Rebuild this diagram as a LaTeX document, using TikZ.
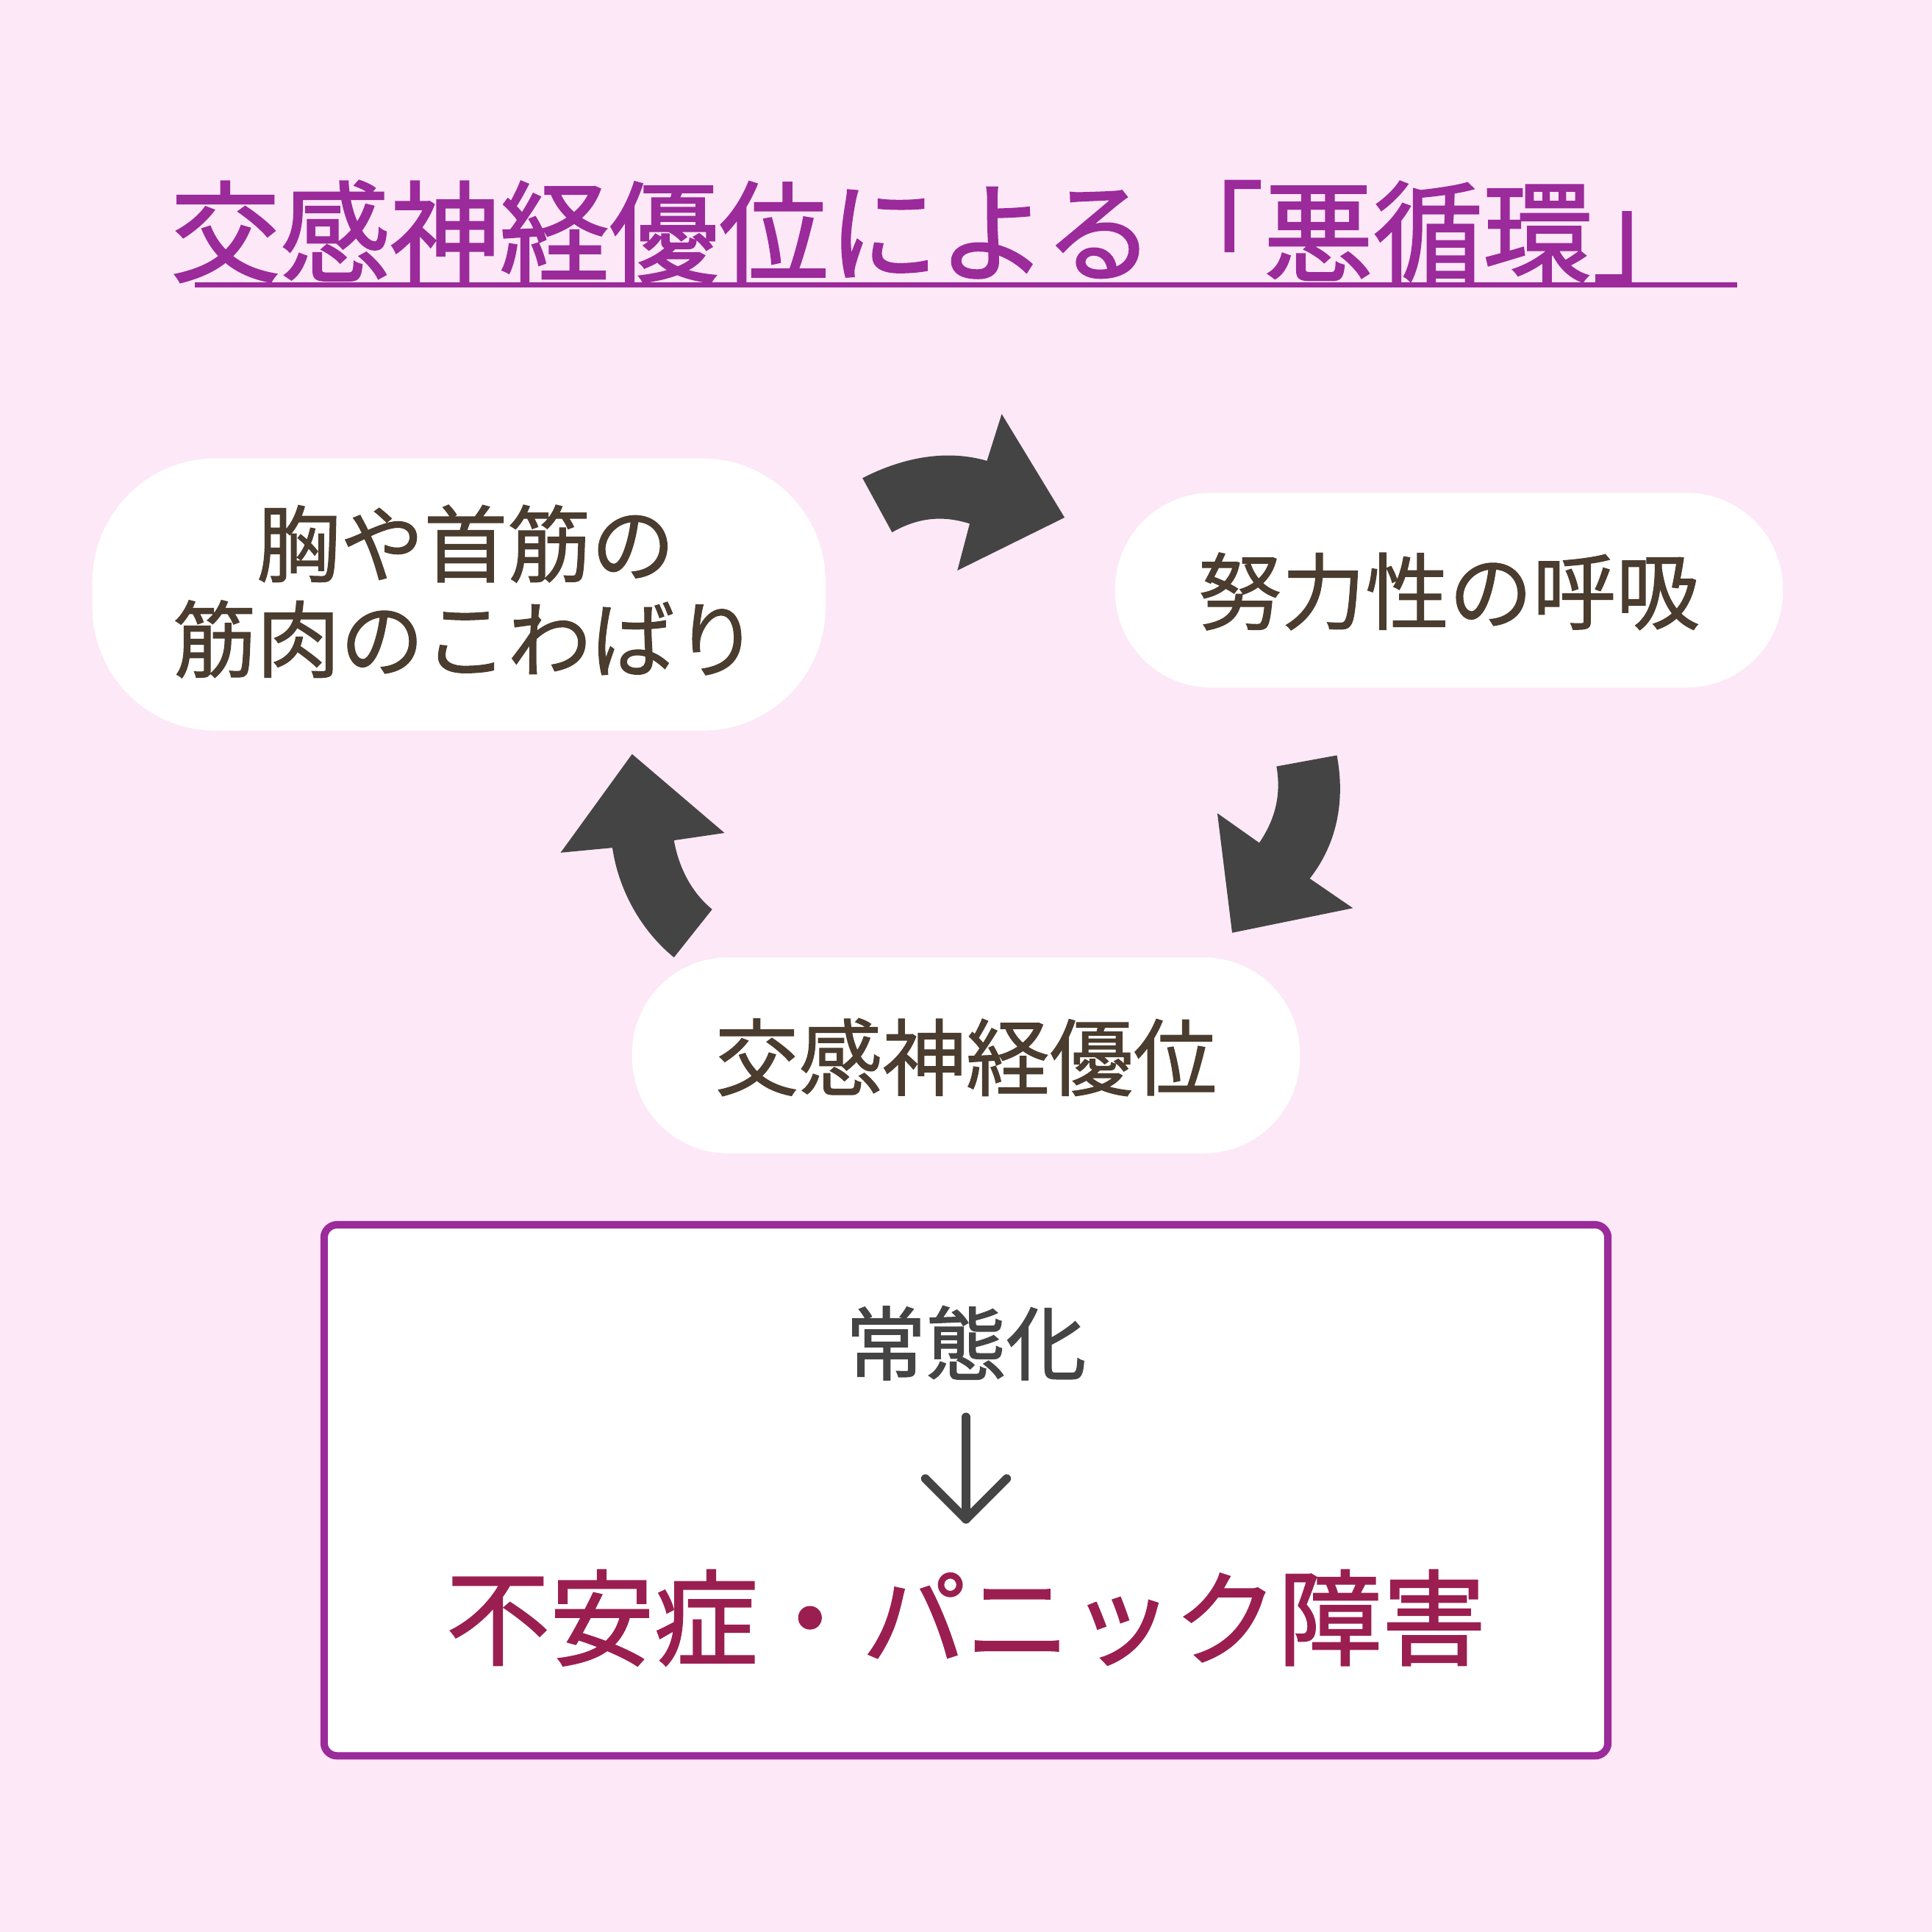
\documentclass[tikz,border=0pt]{standalone}
\usepackage{fontspec}
\setmainfont{Noto Sans CJK JP}
\newfontfamily\jpb{Noto Sans CJK JP}[FakeBold=1.5]
\newfontfamily\jpm{Noto Sans CJK JP}[FakeBold=1]
\definecolor{bgpink}{HTML}{FCE8F6}
\definecolor{ttl}{HTML}{9B2A9B}
\definecolor{txt}{HTML}{4A3C2E}
\definecolor{arr}{HTML}{444444}
\definecolor{red}{HTML}{9A1F50}
\tikzset{bubble/.style={fill=white,draw=none},
 lbl/.style={text=txt,font=\fontsize{19.3pt}{24pt}\selectfont\jpm,align=center,inner sep=0pt},
 arrowshape/.style={fill=arr,draw=none}}
\begin{document}
\begin{tikzpicture}[x={(0.01cm,0)},y={(0,-0.01cm)}]
\fill[bgpink] (0,0) rectangle (1568,1568);
\useasboundingbox (0,0) rectangle (1568,1568);
% title
\node[text=ttl,font=\fontsize{25.3pt}{28pt}\selectfont\jpb,inner sep=0pt] (title) at (760,188) {交感神経優位による「悪循環」};
\draw[ttl,line width=4*0.2845pt] (158,231) -- (1410,231);
% bubbles
\fill[bubble,rounded corners=100*0.2845pt] (75,372) rectangle (670,593);
\node[lbl] (b1) at (378,480) {胸や首筋の\\[-2pt]筋肉のこわばり};
\fill[bubble,rounded corners=78*0.2845pt] (905,400) rectangle (1447,558);
\node[lbl] (b2) at (1176,480) {努力性の呼吸};
\fill[bubble,rounded corners=78*0.2845pt] (513,777) rectangle (1055,936);
\node[lbl] (b3) at (784,858) {交感神経優位};
% curved arrows
\fill[arrowshape] (700,388) .. controls (735,370) and (770,365) .. (801,374) -- (813,336) -- (864,420) -- (777,463) -- (787,425) .. controls (765,418) and (745,420) .. (724,432) -- cycle;
\fill[arrowshape] (1085,613) .. controls (1092,650) and (1085,685) .. (1063,713) -- (1098,737) -- (1000,757) -- (988,660) -- (1022,684) .. controls (1035,665) and (1040,645) .. (1036,622) -- cycle;
\fill[arrowshape] (547,777) .. controls (520,755) and (502,722) .. (497,688) -- (455,692) -- (513,612) -- (588,676) -- (547,682) .. controls (551,705) and (562,725) .. (578,738) -- cycle;
% bottom box
\draw[ttl,fill=white,line width=6*0.2845pt,rounded corners=3pt] (263,994) rectangle (1305,1425);
\node[text=arr,font=\fontsize{18.5pt}{22pt}\selectfont\jpb,inner sep=0pt] (c1) at (784,1090) {常態化};
\coordinate (a1) at (784,1150);
\coordinate (a2) at (784,1233);
\draw[arr,line width=7*0.2845pt,line cap=round,line join=round] (a1) -- (a2);
\draw[arr,line width=7*0.2845pt,line cap=round,line join=round] (751,1200) -- (a2) -- (817,1200);
\node[text=red,font=\fontsize{24pt}{26pt}\selectfont\jpb,inner sep=0pt] (c2) at (784,1313) {不安症・パニック障害};
\end{tikzpicture}
\end{document}
